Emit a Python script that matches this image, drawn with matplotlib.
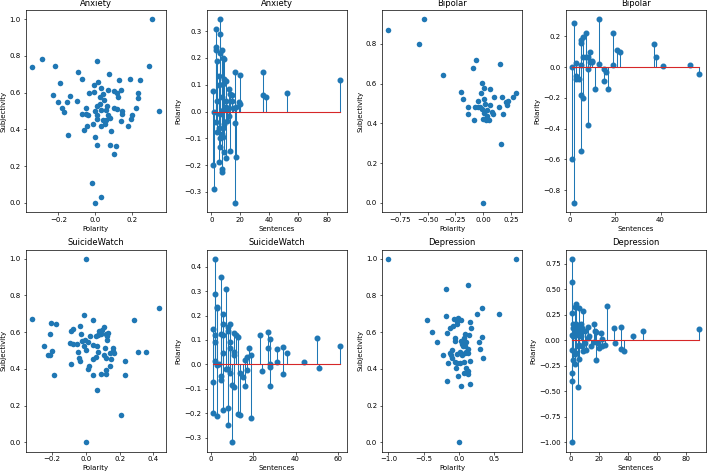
import matplotlib
matplotlib.use("Agg")
import matplotlib.pyplot as plt

# ---- Anxiety: polarity vs subjectivity
anx_pol = [0.306, -0.344, -0.29, -0.22, 0.011, -0.094, -0.072, -0.189, -0.229, -0.202, -0.178, -0.171,
           -0.139, -0.155, -0.148, -0.097, -0.034, -0.007, 0.016, 0.029, 0.072, 0.13, 0.189, 0.243,
           0.29, 0.346, 0.231, 0.231, 0.218, 0.2, 0.193, 0.175, 0.146, 0.146, 0.137, 0.115, 0.099,
           0.122, 0.099, 0.117, 0.137, 0.086, 0.114, 0.077, 0.099, 0.009, 0.0, -0.011, -0.018, 0.032,
           0.0, -0.061, -0.043, -0.05, -0.05, -0.07, -0.04, 0.009, -0.002, 0.011, 0.029, 0.056, 0.063,
           0.07, 0.045, 0.025, 0.041, 0.068, 0.077, 0.059, 0.05, 0.032, -0.007, 0.009, 0.023, 0.041]
anx_sub = [1.0, 0.738, 0.784, 0.747, 0.773, 0.711, 0.674, 0.652, 0.586, 0.551, 0.516, 0.496,
           0.584, 0.551, 0.372, 0.555, 0.599, 0.643, 0.659, 0.626, 0.701, 0.667, 0.676, 0.668,
           0.747, 0.5, 0.599, 0.573, 0.518, 0.48, 0.458, 0.418, 0.483, 0.5, 0.614, 0.597, 0.61,
           0.577, 0.515, 0.509, 0.445, 0.39, 0.311, 0.315, 0.266, 0.315, 0.361, 0.427, 0.106, 0.033,
           0.0, 0.396, 0.421, 0.518, 0.483, 0.483, 0.476, 0.476, 0.498, 0.526, 0.507, 0.504, 0.529,
           0.617, 0.562, 0.577, 0.59, 0.476, 0.463, 0.449, 0.427, 0.416, 0.601, 0.458, 0.54, 0.449]

# ---- Anxiety: sentences vs polarity
anx_sent = [1, 1, 2, 3, 3, 3, 3, 4, 5, 5, 6, 6, 6, 6, 7, 7, 7, 8, 8, 9, 9, 10, 10, 12, 13, 14, 16, 16,
            16, 17, 17, 19, 20, 20, 36, 36, 38, 52, 89,
            5, 6, 7, 8, 8, 9, 10, 11, 12, 13, 4, 4, 2, 9, 8, 7, 10, 11, 14, 15, 5, 6]
anx_spol = [0.075, -0.2, -0.288, 0.307, 0.242, 0.229, -0.04, 0.188, 0.134, -0.188, 0.345, 0.29, 0.218,
            -0.134, 0.229, -0.216, -0.226, 0.2, -0.094, 0.195, -0.153, 0.115, -0.175, 0.085, -0.148,
            0.063, 0.148, -0.341, -0.044, -0.169, 0.016, 0.035, 0.137, 0.029, 0.147, 0.063, 0.055,
            0.07, 0.117,
            0.098, -0.01, 0.054, 0.104, 0.004, -0.046, 0.016, 0.004, -0.015, 0.066, 0.04, -0.075, 0.0,
            0.122, -0.06, -0.085, 0.04, -0.034, 0.04, 0.015, -0.06, -0.1]

# ---- Bipolar: polarity vs subjectivity
bip_pol = [-0.853, -0.529, -0.58, -0.36, -0.063, -0.093, 0.15, -0.195, -0.177, -0.135, -0.138, -0.081,
           -0.069, -0.045, -0.018, -0.006, 0.009, 0.06, 0.009, 0.018, -0.027, -0.006, 0.009, 0.036,
           0.063, 0.099, 0.081, 0.093, 0.003, 0.027, 0.036, 0.147, 0.168, 0.183, 0.204, 0.213, 0.267,
           0.294, 0.228, 0.165, 0.0, 0.033, 0.057, -0.042]
bip_sub = [0.871, 0.924, 0.8, 0.643, 0.721, 0.677, 0.7, 0.557, 0.523, 0.482, 0.447, 0.418,
           0.482, 0.514, 0.555, 0.604, 0.58, 0.575, 0.523, 0.497, 0.482, 0.474, 0.452, 0.465,
           0.491, 0.533, 0.457, 0.445, 0.423, 0.415, 0.435, 0.482, 0.533, 0.448, 0.506, 0.491, 0.533,
           0.555, 0.511, 0.298, 0.0, 0.426, 0.415, 0.482]

# ---- Bipolar: sentences vs polarity
bip_sent = [1, 1, 2, 2, 3, 3, 3, 4, 5, 5, 5, 5, 5, 6, 6, 6, 7, 7, 8, 8, 8, 9, 9, 10, 10, 11, 13, 13,
            15, 15, 16, 17, 19, 19, 21, 22, 37, 38, 41, 53, 57]
bip_spol = [-0.598, 0.0, -0.882, 0.286, 0.026, -0.059, -0.074, -0.079, 0.159, 0.177, -0.181, -0.546,
            0.013, 0.199, 0.068, -0.199, 0.225, 0.068, 0.068, -0.015, -0.373, 0.1, 0.035, 0.039, 0.031,
            -0.14, 0.312, 0.02, -0.009, -0.092, -0.031, -0.14, 0.22, 0.011, 0.109, 0.1, 0.151, 0.063,
            0.007, 0.011, -0.044]

# ---- SuicideWatch: polarity vs subjectivity
sw_pol = [0.0, 0.0, -0.32, 0.434, 0.287, 0.208, 0.306, 0.356, 0.23, 0.234, -0.208, -0.175, -0.21,
          -0.248, -0.222, -0.202, -0.212, -0.187, -0.086, -0.09, -0.077, -0.094, -0.077, -0.053,
          -0.037, -0.029, -0.043, -0.037, -0.047, -0.01, -0.022, -0.014, 0.0, -0.006, 0.014, 0.026,
          0.012, 0.02, 0.045, 0.041, 0.041, 0.061, 0.065, 0.061, 0.08, 0.096, 0.108, 0.071, 0.065,
          0.091, 0.045, 0.116, 0.11, 0.118, 0.12, 0.122, 0.124, 0.134, 0.128, 0.14, 0.143, 0.151,
          0.163, 0.165, 0.163, 0.09, 0.073, 0.12]
sw_sub = [1.0, 0.0, 0.674, 0.733, 0.667, 0.15, 0.491, 0.491, 0.443, 0.366, 0.65, 0.643, 0.592,
          0.522, 0.478, 0.5, 0.476, 0.364, 0.427, 0.604, 0.617, 0.54, 0.535, 0.537,
          0.632, 0.592, 0.46, 0.445, 0.491, 0.692, 0.553, 0.522, 0.504, 0.559, 0.548, 0.577,
          0.397, 0.416, 0.665, 0.531, 0.454, 0.467, 0.527, 0.577, 0.604, 0.61, 0.628, 0.493, 0.284,
          0.37, 0.364, 0.513, 0.476, 0.458, 0.372, 0.394, 0.577, 0.595, 0.555, 0.489, 0.418, 0.454,
          0.513, 0.485, 0.498, 0.592, 0.586, 0.59]

# ---- SuicideWatch: sentences vs polarity
sw_sent = [1, 1, 1, 2, 2, 2, 2, 2, 3, 3, 3, 3, 4, 5, 5, 5, 5, 6, 6, 6, 6, 6, 7, 7, 8, 8, 8, 8, 8,
           9, 9, 9, 9, 10, 10, 11, 11, 11, 11, 12, 13, 13, 14, 14, 15, 16, 16, 17, 17, 18, 19, 19,
           23, 24, 27, 27, 28, 28, 28, 28, 31, 31, 34, 34, 36, 44, 50, 51, 61]
sw_spol = [0.145, -0.074, -0.2, 0.433, 0.288, 0.119, 0.09, 0.015, 0.234, 0.229, -0.21, -0.003, 0.0,
           0.357, 0.123, -0.048, -0.063, 0.208, 0.166, 0.119, 0.046, -0.185, 0.308, -0.017, 0.153,
           0.138, -0.248, -0.178, -0.017, 0.164, 0.092, 0.069, -0.037, -0.319, -0.083, 0.128, 0.052,
           0.04, -0.092, 0.119, -0.203, 0.114, -0.208, -0.037, -0.051, -0.09, 0.018, 0.032, -0.022,
           0.066, 0.039, -0.221, 0.12, -0.028, 0.134, 0.069, 0.103, 0.001, -0.012, -0.087, 0.065,
           0.011, 0.07, -0.04, 0.047, 0.01, 0.109, -0.015, 0.076]

# ---- Depression: polarity vs subjectivity
dep_pol = [-1.0, 0.8, -0.18, 0.13, -0.45, -0.38, -0.31, -0.225, -0.185, -0.171, -0.162, -0.176, -0.018,
           0.027, 0.153, 0.324, 0.257, 0.57, 0.32, 0.275, 0.302, 0.338, 0.153, 0.167, 0.144, 0.153,
           0.131, 0.099, 0.131, 0.122, 0.068, 0.032, -0.014, -0.036, -0.068, -0.036, -0.081, -0.126,
           -0.063, -0.095, -0.095, -0.108, -0.063, -0.027, -0.045, -0.027, 0.009, 0.045, 0.063, 0.077,
           0.054, 0.099, 0.086, 0.068, 0.018, 0.099, 0.045, 0.122, 0.077, 0.023, -0.126, 0.0, -0.054]
dep_sub = [1.0, 1.0, 0.833, 0.859, 0.667, 0.599, 0.549, 0.474, 0.687, 0.597, 0.434, 0.335, 0.361,
           0.304, 0.32, 0.73, 0.7, 0.701, 0.575, 0.545, 0.51, 0.46, 0.654, 0.62, 0.585, 0.445,
           0.507, 0.403, 0.372, 0.39, 0.377, 0.665, 0.679, 0.659, 0.672, 0.642, 0.636, 0.624,
           0.554, 0.503, 0.461, 0.477, 0.437, 0.43, 0.403, 0.48, 0.493, 0.537, 0.566, 0.59,
           0.522, 0.547, 0.485, 0.436, 0.43, 0.493, 0.476, 0.485, 0.527, 0.55, 0.485, 0.0, 0.57]

# ---- Depression: sentences vs polarity
dep_sent = [1, 1, 1, 1, 1, 1, 1, 1, 2, 2, 2, 3, 3, 3, 4, 4, 4, 5, 5, 5, 6, 6, 6, 7, 7, 8, 9, 9, 10,
            11, 12, 13, 14, 16, 16, 17, 18, 18, 19, 20, 21, 22, 22, 24, 25, 30, 31, 35, 35, 37, 43,
            50, 89, 2, 3, 4, 5, 6, 7, 8, 10, 12]
dep_spol = [0.8, 0.569, 0.27, 0.049, -0.099, -0.322, -0.398, -1.0, 0.155, 0.04, -0.19, 0.326, -0.23,
            0.072, 0.352, 0.164, -0.125, -0.46, 0.138, -0.06, 0.32, -0.18, 0.089, 0.155, 0.04, -0.06,
            0.286, -0.109, 0.089, -0.095, 0.135, 0.04, -0.06, 0.164, -0.016, 0.089, -0.197, 0.082,
            -0.026, -0.076, 0.072, 0.013, -0.06, -0.043, 0.339, 0.122, -0.03, 0.128, -0.086, -0.105,
            0.046, 0.095, 0.115, 0.12, -0.13, 0.05, 0.1, -0.05, 0.11, 0.12, -0.03, 0.02]

plt.rcParams.update({"font.size": 5.0, "axes.titlesize": 6.0, "axes.linewidth": 0.5,
                     "xtick.major.size": 1.8, "ytick.major.size": 1.8,
                     "xtick.major.width": 0.45, "ytick.major.width": 0.45,
                     "xtick.major.pad": 1.7, "ytick.major.pad": 1.7,
                     "axes.labelpad": 2.0, "axes.titlepad": 3.0})

fig = plt.figure(figsize=(7.08, 4.72), dpi=100)
W, H = 708, 472
lefts = [25.5, 206.5, 382, 565.5]
tops = [10, 249.5]
aw, ah = 140, 202

panels = [
    ("scatter", "Anxiety", anx_pol, anx_sub),
    ("stem", "Anxiety", anx_sent, anx_spol),
    ("scatter", "Bipolar", bip_pol, bip_sub),
    ("stem", "Bipolar", bip_sent, bip_spol),
    ("scatter", "SuicideWatch", sw_pol, sw_sub),
    ("stem", "SuicideWatch", sw_sent, sw_spol),
    ("scatter", "Depression", dep_pol, dep_sub),
    ("stem", "Depression", dep_sent, dep_spol),
]

for i, (kind, title, x, y) in enumerate(panels):
    r, c = divmod(i, 4)
    ax = fig.add_axes([lefts[c] / W, 1 - (tops[r] + ah) / H, aw / W, ah / H])
    if kind == "scatter":
        ax.scatter(x, y, s=16, color="C0", linewidths=0)
        ax.set_xlabel("Polarity")
        ax.set_ylabel("Subjectivity")
    else:
        ml, sl, bl = ax.stem(x, y)
        ml.set_markersize(3.3)
        sl.set_linewidth(0.75)
        bl.set_linewidth(0.8)
        ax.set_xlabel("Sentences")
        ax.set_ylabel("Polarity")
    ax.set_title(title)

fig.savefig("out.png", dpi=100)
